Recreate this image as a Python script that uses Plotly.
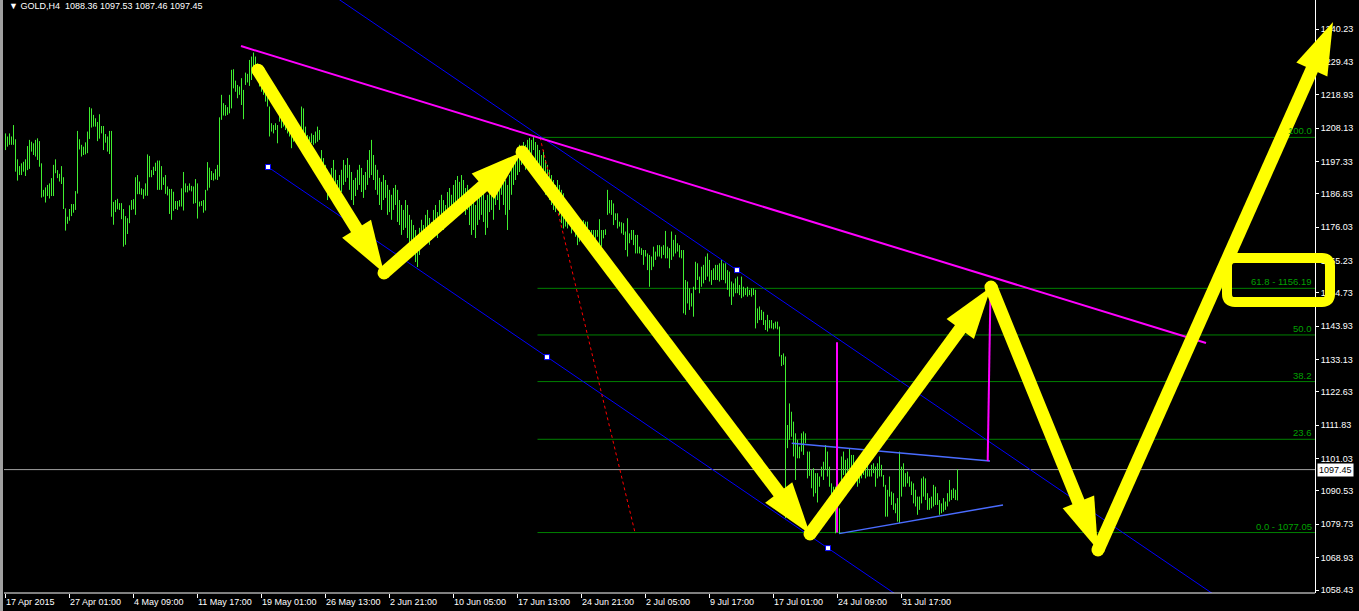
import math
import plotly.graph_objects as go

# ---------------- data ----------------
highs = [
    1206.4,1205.4,1206.4,1205.4,1209.1,1204.5,1198.0,1195.8,1196.7,1197.2,
    1198.0,1202.3,1204.3,1203.7,1203.2,1204.3,1204.8,1203.9,1196.7,1188.1,
    1188.9,1189.7,1190.2,1191.9,1196.2,1198.0,1194.5,1193.3,1195.8,1192.2,
    1182.1,1179.4,1181.9,1183.5,1183.5,1187.7,1207.2,1204.5,1202.7,1202.1,
    1203.5,1207.0,1214.9,1214.5,1212.4,1211.3,1210.1,1212.6,1208.8,1208.8,
    1206.2,1205.4,1207.2,1207.2,1184.2,1184.8,1185.2,1183.8,1183.8,1181.9,
    1179.6,1178.9,1183.1,1184.8,1185.1,1192.2,1192.9,1190.8,1188.6,1188.3,
    1190.2,1199.6,1199.1,1194.5,1195.6,1196.9,1197.6,1197.6,1195.8,1192.2,
    1192.9,1189.2,1188.4,1188.4,1187.5,1184.5,1184.5,1184.8,1188.6,1193.9,
    1190.2,1189.4,1190.2,1189.4,1189.2,1191.6,1190.2,1184.3,1184.5,1184.8,
    1188.1,1197.1,1195.3,1194.2,1193.5,1194.8,1196.2,1211.6,1218.9,1216.2,
    1215.6,1214.9,1218.9,1227.0,1227.2,1223.5,1222.1,1221.6,1224.3,1220.5,
    1226.1,1225.7,1230.2,1231.3,1232.6,1231.3,1229.1,1228.0,1225.3,1222.6,
    1221.6,1218.8,1215.1,1209.7,1209.1,1209.7,1209.1,1212.9,1212.4,1212.9,
    1211.3,1210.2,1209.7,1207.5,1207.5,1206.4,1207.5,1207.0,1215.1,1214.5,
    1208.6,1205.9,1205.4,1206.4,1205.9,1207.0,1208.6,1207.5,1201.0,1198.4,
    1196.2,1194.6,1192.9,1195.2,1197.8,1194.6,1191.3,1192.9,1194.6,1197.8,
    1196.2,1198.4,1196.2,1193.9,1191.3,1192.0,1194.6,1196.2,1195.2,1192.9,
    1193.9,1197.8,1201.0,1204.3,1199.4,1196.2,1194.6,1192.0,1190.7,1192.9,
    1191.3,1189.7,1188.1,1186.5,1188.7,1189.7,1188.1,1184.8,1183.2,1181.6,
    1184.8,1183.2,1180.0,1178.4,1176.7,1175.1,1171.9,1175.8,1178.4,1176.7,
    1180.0,1181.6,1179.0,1177.7,1181.6,1183.2,1180.9,1184.8,1186.5,1184.8,
    1183.2,1187.4,1188.7,1186.5,1189.7,1191.3,1192.6,1190.7,1192.9,1191.3,
    1188.7,1189.7,1188.1,1186.5,1184.8,1183.2,1185.5,1188.1,1189.7,1187.4,
    1184.8,1186.5,1189.7,1191.3,1188.7,1192.0,1194.6,1192.9,1196.2,1194.6,
    1191.3,1189.7,1192.9,1196.2,1197.8,1199.4,1201.0,1202.7,1201.7,1203.6,
    1202.7,1204.3,1204.9,1204.3,1205.2,1203.6,1202.7,1201.0,1199.4,1201.0,
    1197.8,1196.2,1194.6,1192.9,1191.3,1189.7,1191.3,1189.7,1188.1,1187.0,
    1179.4,1178.9,1179.4,1178.3,1178.3,1177.8,1178.3,1176.2,1175.1,1178.3,
    1177.8,1177.8,1175.1,1175.1,1175.1,1175.1,1175.1,1178.6,1175.1,1175.1,
    1175.3,1188.1,1184.8,1184.8,1183.7,1180.5,1180.5,1177.8,1177.6,1177.3,
    1174.6,1178.9,1174.0,1175.1,1175.1,1173.5,1173.5,1169.7,1169.2,1168.6,
    1168.6,1167.5,1167.0,1166.5,1169.7,1168.1,1170.2,1170.2,1169.7,1170.2,
    1174.8,1169.7,1169.2,1174.6,1171.9,1173.5,1170.8,1170.2,1168.6,1168.6,
    1158.9,1158.4,1156.2,1154.6,1156.7,1164.8,1164.3,1160.0,1163.2,1163.8,
    1166.5,1167.5,1165.4,1162.1,1162.7,1163.8,1163.8,1164.3,1165.4,1164.3,
    1164.3,1162.1,1161.6,1158.4,1157.8,1159.4,1160.0,1157.3,1160.0,1156.7,
    1156.2,1156.7,1155.7,1156.2,1156.2,1155.7,1149.7,1150.3,1149.2,1148.6,
    1145.9,1147.6,1145.9,1145.9,1144.9,1145.4,1145.4,1143.8,1134.6,1135.1,
    1134.1,1111.9,1118.9,1116.2,1113.0,1109.2,1107.1,1104.9,1109.2,1109.8,
    1109.2,1103.3,1103.3,1097.3,1097.9,1096.3,1096.3,1095.2,1098.4,1100.0,
    1105.4,1103.3,1098.4,1093.0,1091.9,1091.9,1094.6,1084.9,1101.7,1103.3,
    1100.6,1101.1,1104.4,1102.2,1102.2,1100.0,1097.3,1095.2,1100.0,1099.0,
    1097.9,1099.0,1097.3,1099.0,1099.5,1098.4,1099.5,1101.7,1099.0,1095.7,
    1092.5,1090.9,1095.2,1090.3,1089.8,1086.5,1088.2,1103.3,1098.4,1099.5,
    1096.3,1096.8,1095.2,1093.6,1093.0,1090.9,1088.7,1088.7,1094.6,1095.2,
    1094.6,1089.8,1088.2,1088.7,1092.5,1091.9,1089.8,1087.6,1086.5,1088.2,
    1087.1,1089.8,1094.1,1090.9,1091.4,1090.9,1097.53,
]

lows = [
    1201.0,1202.1,1202.7,1202.7,1202.7,1194.0,1191.1,1192.9,1192.9,1194.0,
    1192.6,1194.5,1194.9,1200.5,1199.4,1198.9,1197.8,1195.6,1185.6,1185.9,
    1184.0,1186.1,1185.3,1186.1,1186.1,1193.5,1191.9,1190.8,1190.0,1181.9,
    1174.9,1177.1,1178.1,1179.6,1180.7,1181.6,1186.9,1201.2,1198.9,1199.4,
    1199.6,1200.0,1204.6,1208.3,1208.6,1208.6,1203.9,1204.7,1206.4,1201.0,
    1203.4,1200.5,1199.7,1179.4,1176.8,1180.9,1181.8,1181.6,1178.6,1169.7,
    1170.3,1173.8,1177.3,1181.6,1181.8,1180.0,1186.7,1186.7,1186.5,1185.2,
    1186.2,1186.2,1192.2,1192.2,1192.9,1194.2,1188.1,1188.1,1188.1,1189.7,
    1186.8,1186.3,1180.3,1178.4,1181.3,1181.9,1181.6,1182.7,1182.7,1181.4,
    1187.3,1187.3,1187.9,1187.6,1183.6,1183.8,1178.8,1182.7,1182.9,1180.7,
    1181.4,1187.9,1188.8,1191.3,1191.1,1191.5,1191.3,1192.4,1210.8,1212.2,
    1212.1,1212.4,1212.9,1214.5,1221.0,1219.9,1217.8,1218.9,1215.6,1211.0,
    1222.1,1222.9,1221.8,1223.7,1227.5,1224.8,1225.3,1221.6,1219.9,1218.9,
    1216.7,1215.1,1205.4,1207.0,1206.4,1207.5,1203.2,1210.2,1208.1,1208.6,
    1207.5,1206.4,1205.4,1201.6,1203.7,1203.7,1204.8,1204.8,1204.3,1204.8,
    1205.4,1204.3,1203.7,1203.2,1202.7,1203.2,1203.7,1204.3,1193.9,1189.7,
    1188.1,1184.8,1186.5,1188.1,1190.7,1183.2,1184.8,1186.5,1187.4,1189.7,
    1190.7,1192.0,1188.1,1184.8,1183.2,1186.1,1188.1,1189.7,1187.4,1185.5,
    1188.1,1189.7,1192.0,1192.9,1191.3,1188.1,1186.5,1183.2,1181.6,1184.8,
    1185.5,1180.0,1180.9,1178.4,1181.6,1183.2,1177.7,1176.7,1173.5,1175.1,
    1175.8,1172.5,1171.2,1170.3,1168.6,1164.7,1163.1,1167.0,1169.3,1170.3,
    1171.9,1173.5,1170.3,1171.9,1174.5,1175.1,1172.5,1176.7,1177.7,1175.1,
    1176.7,1179.0,1180.9,1178.4,1181.6,1183.2,1184.8,1182.2,1185.5,1183.2,
    1180.0,1181.6,1176.7,1173.5,1175.1,1172.5,1176.7,1178.4,1180.0,1177.7,
    1173.5,1175.8,1180.9,1181.6,1178.4,1183.2,1184.8,1181.6,1186.5,1183.2,
    1180.0,1175.1,1181.6,1186.5,1189.7,1191.3,1192.9,1193.9,1196.2,1197.8,
    1194.6,1198.4,1199.4,1197.1,1201.0,1197.8,1195.2,1192.9,1191.3,1189.7,
    1186.5,1188.1,1184.8,1183.2,1181.6,1180.9,1183.2,1180.0,1177.3,1175.6,
    1176.2,1175.6,1177.3,1174.0,1175.1,1172.9,1170.2,1171.3,1171.9,1172.9,
    1175.1,1174.0,1172.9,1172.4,1169.7,1171.3,1172.9,1169.7,1169.7,1172.4,
    1173.5,1180.0,1180.5,1180.0,1176.7,1178.3,1175.6,1176.2,1174.0,1173.5,
    1168.6,1166.5,1170.8,1171.9,1170.2,1167.5,1167.5,1167.5,1167.0,1163.8,
    1166.5,1162.1,1156.7,1162.1,1163.2,1165.4,1166.5,1166.5,1165.9,1167.0,
    1165.9,1165.9,1162.7,1165.4,1166.5,1167.5,1168.1,1166.2,1165.9,1148.1,
    1147.6,1151.3,1149.2,1150.3,1147.0,1155.7,1158.9,1154.6,1156.7,1157.8,
    1158.9,1160.0,1158.4,1157.3,1158.9,1158.9,1158.9,1158.4,1158.9,1158.9,
    1157.8,1155.7,1153.5,1150.8,1153.5,1154.6,1154.6,1154.0,1153.0,1153.5,
    1154.0,1153.5,1154.0,1153.5,1154.0,1143.2,1144.9,1145.9,1145.9,1144.3,
    1142.7,1142.2,1143.2,1143.2,1142.9,1143.2,1142.9,1134.1,1131.0,1131.4,
    1081.7,1104.4,1107.1,1108.1,1101.7,1094.1,1101.1,1101.1,1103.3,1102.2,
    1106.0,1094.6,1095.4,1091.4,1088.7,1089.8,1086.8,1091.9,1095.2,1094.1,
    1097.3,1095.2,1091.9,1089.2,1087.6,1076.8,1083.8,1076.8,1091.9,1095.7,
    1095.2,1096.8,1097.3,1095.2,1097.3,1094.1,1091.9,1093.0,1094.6,1095.7,
    1094.6,1095.2,1095.2,1095.2,1096.3,1091.9,1094.6,1095.2,1095.2,1091.9,
    1082.2,1082.2,1088.7,1086.0,1084.4,1083.3,1080.6,1080.1,1088.7,1091.9,
    1091.9,1093.0,1091.9,1089.2,1086.5,1085.5,1082.8,1084.4,1086.5,1088.7,
    1087.6,1084.4,1084.4,1084.9,1085.5,1086.0,1086.0,1082.8,1083.3,1083.8,
    1084.4,1085.5,1087.1,1087.6,1088.2,1087.6,1087.46,
]

x_tick_vals = [0, 32, 64, 96, 128, 160, 192, 224, 256, 288, 320, 352, 384, 416, 448]
x_tick_text = ["17 Apr 2015", "27 Apr 01:00", "4 May 09:00", "11 May 17:00",
               "19 May 01:00", "26 May 13:00", "2 Jun 21:00", "10 Jun 05:00",
               "17 Jun 13:00", "24 Jun 21:00", "2 Jul 05:00", "9 Jul 17:00",
               "17 Jul 01:00", "24 Jul 09:00", "31 Jul 17:00"]
y_tick_vals = [1240.23, 1229.43, 1218.93, 1208.13, 1197.33, 1186.83, 1176.03,
               1165.23, 1154.73, 1143.93, 1133.13, 1122.63, 1111.83, 1101.03,
               1090.53, 1079.73, 1068.93, 1058.43]

header_text = "▼ GOLD,H4  1088.36 1097.53 1087.46 1097.45"
last_price = 1097.45

fib_low = 1077.05
fib_high = 1205.11
fib_levels = [0.0, 23.6, 38.2, 50.0, 61.8, 100.0]
fib_labels = ["0.0 - 1077.05", "23.6", "38.2", "50.0", "61.8 - 1156.19", "100.0"]
fib_start = 266

# drawn objects: (bar index, price)
resistance_x = [117.75, 600.25]
resistance_y = [1234.7, 1138.5]
channel_upper_x = [164.75, 605.25]
channel_upper_y = [1250.7, 1056.5]
channel_lower_x = [131.25, 447.25]
channel_lower_y = [1195.5, 1056.1]
channel_pts_x = [131.25, 270.75, 365.75, 411.25]
channel_pts_y = [1195.5, 1133.9, 1162.1, 1072.0]
fib_diag_x = [267.25, 314.75]
fib_diag_y = [1205.11, 1077.05]
tri_upper_x = [393.1, 492.25]
tri_upper_y = [1106.0, 1100.2]
tri_lower_x = [416.75, 498.75]
tri_lower_y = [1076.7, 1086.0]
pole1_x = [415.75, 415.75]
pole1_y = [1077.05, 1138.7]
pole2_x = [491.1, 492.5]
pole2_y = [1100.2, 1156.2]
path_x = [126.25, 189.25, 258.25, 402.25, 492.75, 546.25, 663.75]
path_y = [1226.9, 1161.2, 1200.4, 1076.6, 1156.6, 1071.4, 1242.5]
box_x = [610.75, 662.25]
box_y = [1151.76, 1166.02]

# ---------------- layout constants ----------------
FIG_W, FIG_H = 1359, 611
M_L, M_B = 4, 18
X_RANGE = [-0.75, 676.75]
Y_RANGE = [1057.46, 1249.63]
AXIS_END = 654.75
PX_X = (FIG_W - M_L) / (X_RANGE[1] - X_RANGE[0])
PX_Y = (FIG_H - M_B) / (Y_RANGE[1] - Y_RANGE[0])
AXIS_POS = (AXIS_END - X_RANGE[0]) / (X_RANGE[1] - X_RANGE[0])
FONT = "Liberation Sans, Arial, sans-serif"
YELLOW = "#ffff00"
BAR_GREEN = "#40ee30"
FIB_GREEN = "#008000"

fig = go.Figure()

# fib levels
for lvl in fib_levels:
    p = fib_low + (fib_high - fib_low) * lvl / 100.0
    fig.add_trace(go.Scatter(x=[fib_start, AXIS_END], y=[p, p], mode="lines",
                             line=dict(color=FIB_GREEN, width=1), hoverinfo="skip"))

# current price line
fig.add_trace(go.Scatter(x=[X_RANGE[0], AXIS_END], y=[last_price, last_price], mode="lines",
                         line=dict(color="#a0a0a0", width=1), hoverinfo="skip"))

# bars
bx, by = [], []
for i, (h, l) in enumerate(zip(highs, lows)):
    bx += [i, i, None]
    by += [l, h, None]
fig.add_trace(go.Scatter(x=bx, y=by, mode="lines", line=dict(color=BAR_GREEN, width=1),
                         hoverinfo="skip"))

# channel
fig.add_trace(go.Scatter(x=channel_upper_x, y=channel_upper_y, mode="lines",
                         line=dict(color="#0000ff", width=1), hoverinfo="skip"))
fig.add_trace(go.Scatter(x=channel_lower_x, y=channel_lower_y, mode="lines",
                         line=dict(color="#0000ff", width=1), hoverinfo="skip"))
# fib diagonal
fig.add_trace(go.Scatter(x=fib_diag_x, y=fib_diag_y, mode="lines",
                         line=dict(color="#ff0000", width=1, dash="dot"), hoverinfo="skip"))
# triangle
fig.add_trace(go.Scatter(x=tri_upper_x, y=tri_upper_y, mode="lines",
                         line=dict(color="#4a6cff", width=1.5), hoverinfo="skip"))
fig.add_trace(go.Scatter(x=tri_lower_x, y=tri_lower_y, mode="lines",
                         line=dict(color="#4a6cff", width=1.5), hoverinfo="skip"))
# magenta
for xs, ys in [(resistance_x, resistance_y), (pole1_x, pole1_y), (pole2_x, pole2_y)]:
    fig.add_trace(go.Scatter(x=xs, y=ys, mode="lines", line=dict(color="#ff00ff", width=2),
                             hoverinfo="skip"))
# channel anchor points
fig.add_trace(go.Scatter(x=channel_pts_x, y=channel_pts_y, mode="markers",
                         marker=dict(symbol="square", size=5, color="white",
                                     line=dict(color="#0000ff", width=1)),
                         hoverinfo="skip"))

shapes = []
# left window border
shapes.append(dict(type="rect", xref="paper", yref="paper", x0=-4 / (FIG_W - M_L), x1=-1 / (FIG_W - M_L),
                   y0=-M_B / (FIG_H - M_B), y1=1, fillcolor="#a0a0a0", line=dict(width=0), layer="above"))
# bottom axis line
shapes.append(dict(type="line", xref="x", yref="paper", x0=X_RANGE[0], x1=AXIS_END, y0=0, y1=0,
                   line=dict(color="white", width=1)))

# yellow arrows
HEAD_LEN, HEAD_HALF, ARROW_W = 52, 17, 13
for k in range(len(path_x) - 1):
    x1, y1, x2, y2 = path_x[k], path_y[k], path_x[k + 1], path_y[k + 1]
    dxp, dyp = (x2 - x1) * PX_X, (y2 - y1) * PX_Y
    n = math.hypot(dxp, dyp)
    ux, uy = dxp / n, dyp / n
    lx = x2 - (HEAD_LEN - 6) * ux / PX_X
    ly = y2 - (HEAD_LEN - 6) * uy / PX_Y
    shapes.append(dict(type="line", xref="x", yref="y", x0=x1, y0=y1, x1=lx, y1=ly,
                       line=dict(color=YELLOW, width=ARROW_W), layer="above"))
    bxp = x2 - HEAD_LEN * ux / PX_X
    byp = y2 - HEAD_LEN * uy / PX_Y
    px_, py_ = -uy, ux
    b1x, b1y = bxp + HEAD_HALF * px_ / PX_X, byp + HEAD_HALF * py_ / PX_Y
    b2x, b2y = bxp - HEAD_HALF * px_ / PX_X, byp - HEAD_HALF * py_ / PX_Y
    shapes.append(dict(type="path", xref="x", yref="y",
                       path=f"M{x2},{y2} L{b1x},{b1y} L{b2x},{b2y} Z",
                       fillcolor=YELLOW, line=dict(width=0), layer="above"))
    r = ARROW_W / 2
    shapes.append(dict(type="circle", xref="x", yref="y", xsizemode="pixel", ysizemode="pixel",
                       xanchor=x1, yanchor=y1, x0=-r, x1=r, y0=-r, y1=r,
                       fillcolor=YELLOW, line=dict(width=0), layer="above"))

# yellow rounded box
rx, ry = 8 / PX_X, 8 / PX_Y
X0, X1 = box_x
Y0, Y1 = box_y
box_path = (f"M{X0 + rx},{Y1} L{X1 - rx},{Y1} Q{X1},{Y1} {X1},{Y1 - ry} "
            f"L{X1},{Y0 + ry} Q{X1},{Y0} {X1 - rx},{Y0} L{X0 + rx},{Y0} "
            f"Q{X0},{Y0} {X0},{Y0 + ry} L{X0},{Y1 - ry} Q{X0},{Y1} {X0 + rx},{Y1} Z")
shapes.append(dict(type="path", xref="x", yref="y", path=box_path,
                   line=dict(color=YELLOW, width=10), layer="above"))

annotations = []
for lvl, lab in zip(fib_levels, fib_labels):
    p = fib_low + (fib_high - fib_low) * lvl / 100.0
    annotations.append(dict(x=AXIS_END, y=p, xref="x", yref="y", text=lab, showarrow=False,
                            xanchor="right", yanchor="bottom", xshift=-2, yshift=0, borderpad=0,
                            font=dict(family=FONT, size=9.5, color="#00a000")))
annotations.append(dict(x=AXIS_END, y=last_price, xref="x", yref="y", text=str(last_price),
                        showarrow=False, xanchor="left", yanchor="middle", xshift=2,
                        bgcolor="white", borderpad=1,
                        font=dict(family=FONT, size=9, color="black")))
annotations.append(dict(x=4 / (FIG_W - M_L), y=1, xref="paper", yref="paper", text=header_text,
                        showarrow=False, xanchor="left", yanchor="top", yshift=0, borderpad=0,
                        font=dict(family=FONT, size=9, color="white")))

fig.update_layout(
    width=FIG_W, height=FIG_H,
    margin=dict(l=M_L, r=0, t=0, b=M_B, pad=0, autoexpand=False),
    paper_bgcolor="black", plot_bgcolor="black",
    showlegend=False, hovermode=False,
    font=dict(family=FONT, size=9, color="white"),
    shapes=shapes, annotations=annotations,
    xaxis=dict(range=X_RANGE, showgrid=False, zeroline=False, showline=False,
               automargin=False,
               tickmode="array", tickvals=x_tick_vals, ticktext=x_tick_text,
               tickangle=0,
               ticks="outside", ticklen=4, tickcolor="white", tickwidth=1,
               ticklabelposition="outside right",
               tickfont=dict(family=FONT, size=9, color="white")),
    yaxis=dict(range=Y_RANGE, showgrid=False, zeroline=False,
               automargin=False,
               anchor="free", position=AXIS_POS, side="right",
               showline=True, linecolor="white", linewidth=1,
               tickmode="array", tickvals=y_tick_vals,
               ticktext=[f"{v:.2f}" for v in y_tick_vals],
               ticks="outside", ticklen=3, tickcolor="white", tickwidth=1,
               tickfont=dict(family=FONT, size=9, color="white")),
)

fig.write_html(
    "out.html",
    config={"displayModeBar": False, "staticPlot": True},
    post_script="document.body.style.margin='0';document.body.style.padding='0';"
                "document.body.style.overflow='hidden';"
                "document.documentElement.style.overflow='hidden';",
)
